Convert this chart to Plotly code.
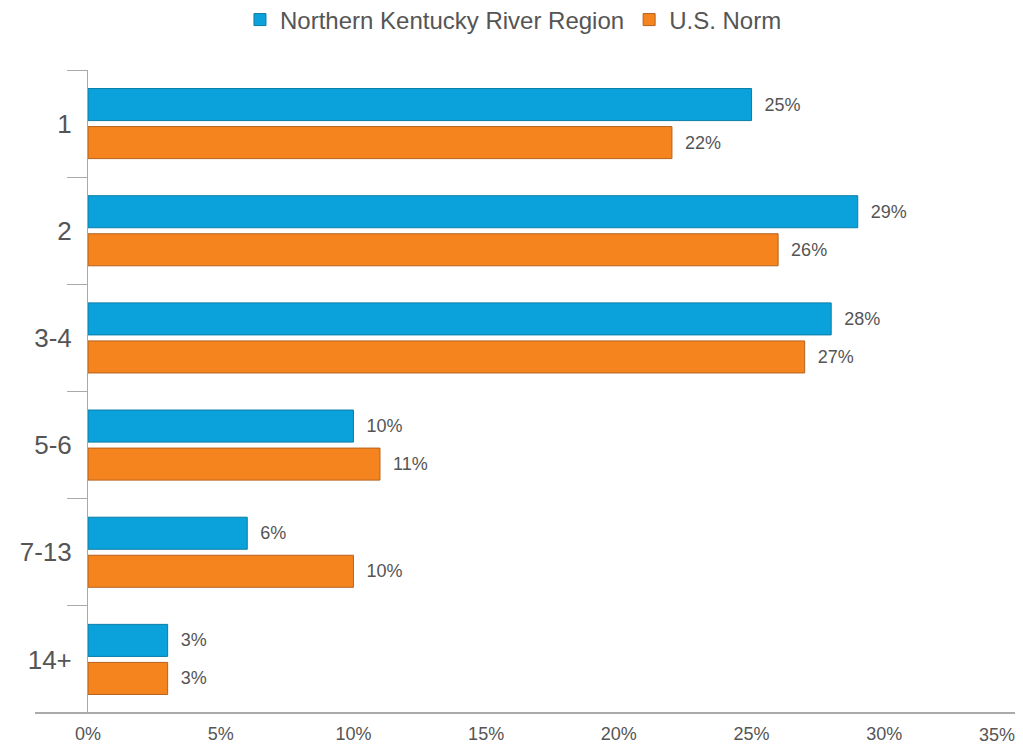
import plotly.graph_objects as go

categories = ["1", "2", "3-4", "5-6", "7-13", "14+"]
region_values = [25, 29, 28, 10, 6, 3]
norm_values = [22, 26, 27, 11, 10, 3]
x_tick_vals = [0, 5, 10, 15, 20, 25, 30]
x_tick_text = ["0%", "5%", "10%", "15%", "20%", "25%", "30%"]

FONT = "Liberation Sans, Arial, sans-serif"
GREY = "#555555"

fig = go.Figure()
fig.add_trace(go.Bar(
    y=categories, x=region_values, orientation="h",
    name="Northern Kentucky River Region",
    marker=dict(color="#0BA2DC", line=dict(color="#0A7DA6", width=1)),
    text=["\u00a0\u00a0" + str(v) + "%" for v in region_values],
    texttemplate="%{text}", textposition="outside",
    textfont=dict(size=18, color=GREY, family=FONT), cliponaxis=False,
))
fig.add_trace(go.Bar(
    y=categories, x=norm_values, orientation="h",
    name="U.S. Norm",
    marker=dict(color="#F5841F", line=dict(color="#B5621C", width=1)),
    text=["\u00a0\u00a0" + str(v) + "%" for v in norm_values],
    texttemplate="%{text}", textposition="outside",
    textfont=dict(size=18, color=GREY, family=FONT), cliponaxis=False,
))

fig.update_layout(
    width=1015, height=739,
    paper_bgcolor="white", plot_bgcolor="white",
    margin=dict(l=80, r=6, t=62, b=34),
    barmode="group", bargap=0.29, bargroupgap=0.158,
    font=dict(family=FONT, color=GREY),
    showlegend=True,
    legend=dict(orientation="h", x=0.458, xanchor="center", y=0.9838, yref="container",
                yanchor="middle", font=dict(size=24, color=GREY)),
    xaxis=dict(range=[0, 35], tickvals=x_tick_vals, ticktext=x_tick_text,
               showgrid=False, zeroline=False, showline=False, automargin=False,
               ticklabelstandoff=8,
               tickfont=dict(size=18, color=GREY), ticks=""),
    yaxis=dict(type="category", autorange="reversed", showgrid=False, automargin=False,
               showline=True, linecolor="#aaaaaa", linewidth=1,
               ticks="outside", tickson="boundaries", ticklen=20, tickcolor="#aaaaaa",
               ticklabelstandoff=10,
               tickfont=dict(size=26, color=GREY)),
    shapes=[dict(type="line", xref="paper", yref="paper",
                 x0=-53 / 929, x1=1.0, y0=0, y1=0,
                 line=dict(color="#aaaaaa", width=2))],
    annotations=[dict(x=35, y=0, xref="x", yref="paper", text="35%",
                      showarrow=False, xanchor="right", yanchor="top", yshift=-10,
                      font=dict(size=18, color=GREY, family=FONT))],
)

fig.write_html("out.html")
